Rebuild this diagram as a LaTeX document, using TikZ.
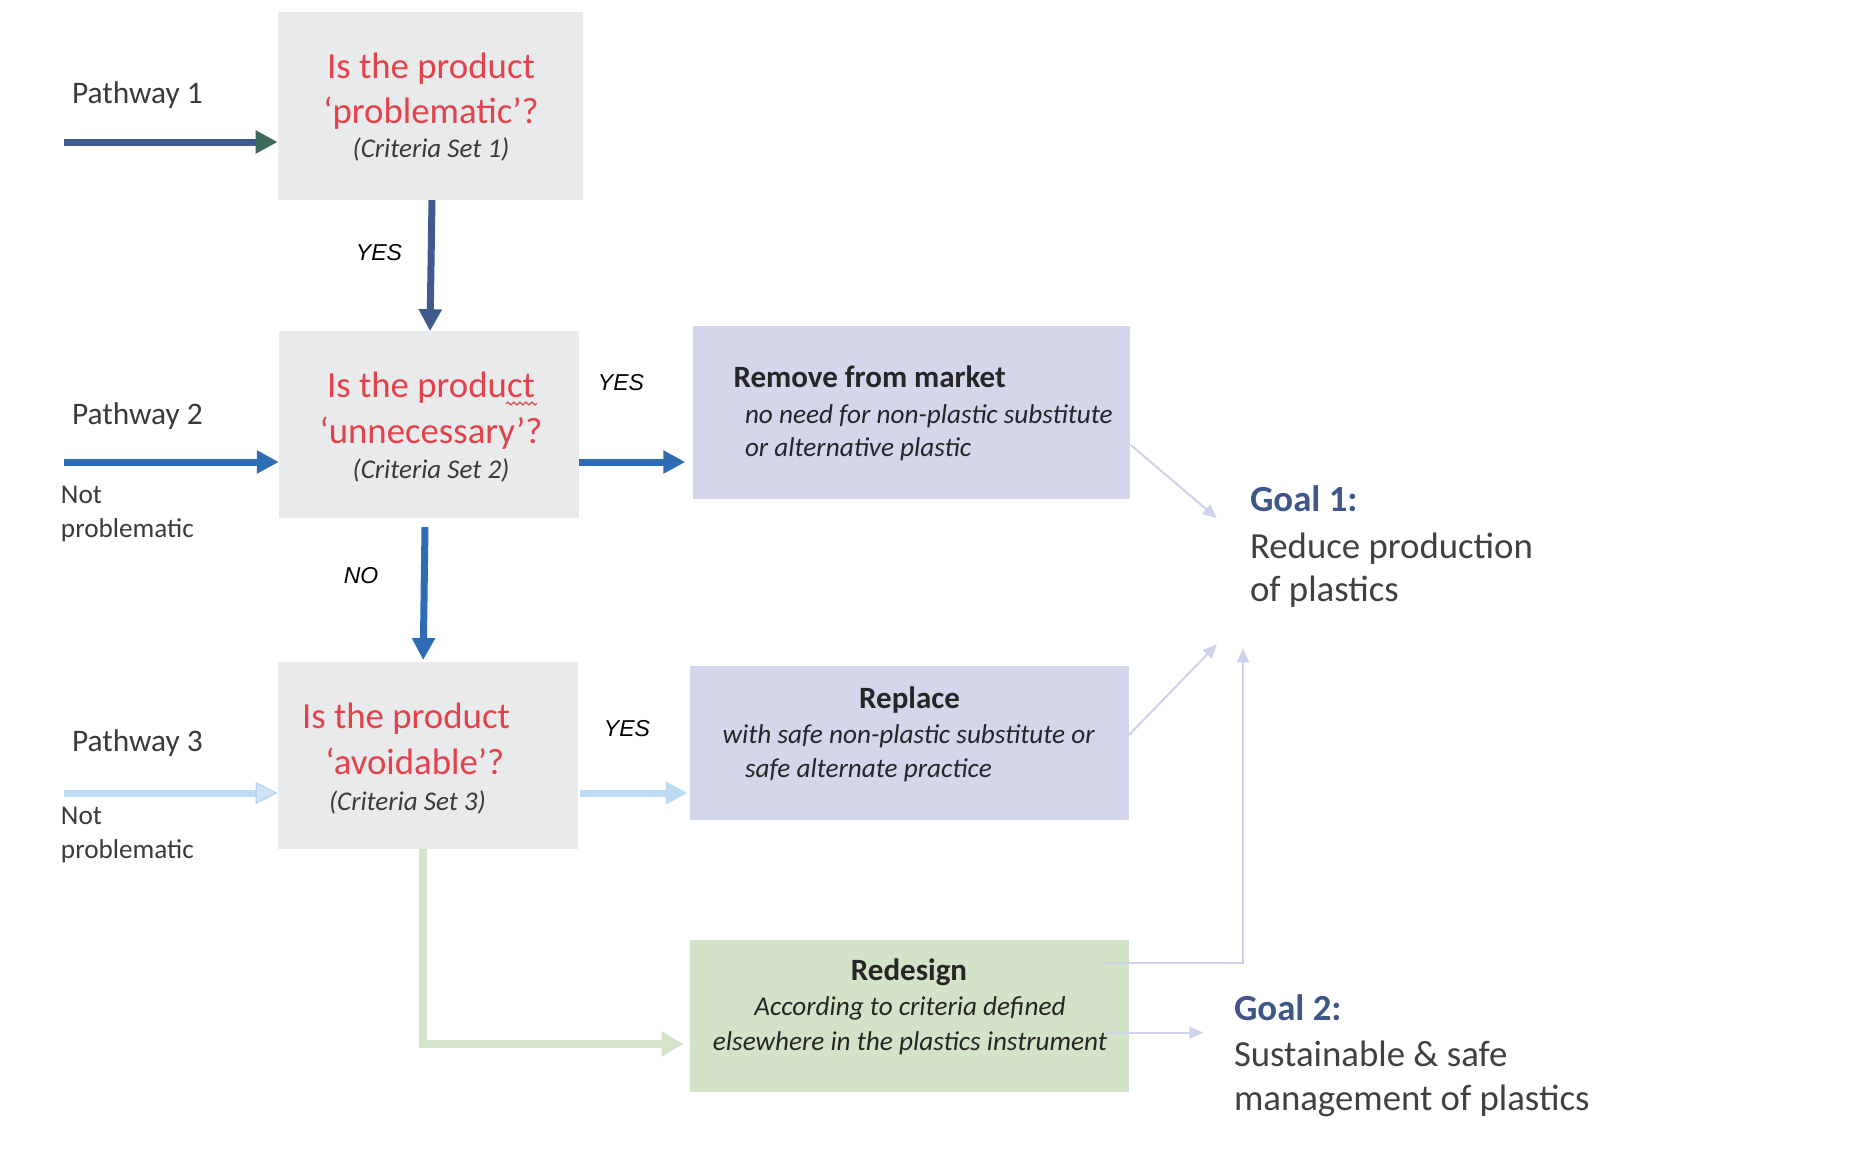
\documentclass[tikz,border=0pt]{standalone}
\usepackage{fontspec}
\setmainfont{Carlito}
\newfontfamily\yesfont{Liberation Sans}
\usetikzlibrary{arrows.meta,decorations.pathmorphing}
\definecolor{boxgray}{HTML}{E9EAEC}
\definecolor{qred}{HTML}{E3424A}
\definecolor{tgray}{HTML}{3A3A3A}
\definecolor{tdark}{HTML}{262626}
\definecolor{darkblue}{HTML}{3F5A8C}
\definecolor{p1head}{HTML}{3C6A5C}
\definecolor{midblue}{HTML}{2E6DB4}
\definecolor{lightblue}{HTML}{BDDCF4}
\definecolor{lightbluehead}{HTML}{CFE5F7}
\definecolor{lightblueedge}{HTML}{B3D5F1}
\definecolor{lavbox}{HTML}{D4D6EC}
\definecolor{greenbox}{HTML}{D3E3C7}
\definecolor{greenline}{HTML}{D4E4C8}
\definecolor{lavline}{HTML}{CFD2EC}
\definecolor{goalblue}{HTML}{3E5688}
\definecolor{goalgray}{HTML}{404040}
\tikzset{
 box/.style={inner sep=0, outer sep=0, anchor=north west, draw=none},
 txt/.style={inner sep=0, outer sep=0, anchor=base},
 txtl/.style={inner sep=0, outer sep=0, anchor=base west},
 redq/.style={txt, text=qred, font=\fontsize{18.4}{22}\selectfont},
 crit/.style={txt, text=tgray, font=\fontsize{13.5}{16}\selectfont\itshape},
 pathlab/.style={txtl, text=tgray, font=\fontsize{15.7}{19}\selectfont},
 notp/.style={txtl, text=tgray, font=\fontsize{13.6}{16}\selectfont},
 yeslab/.style={txt, text=black, font=\yesfont\itshape\fontsize{11.5}{14}\selectfont},
 btitle/.style={text=tdark, font=\fontsize{15.5}{19}\selectfont\bfseries},
 bbody/.style={text=tdark, font=\fontsize{13.6}{16}\selectfont\itshape},
 goalh/.style={txtl, text=goalblue, font=\fontsize{18.4}{22}\selectfont\bfseries},
 goalb/.style={txtl, text=goalgray, font=\fontsize{18.4}{22}\selectfont},
 thick arrow/.style={line width=3.5pt, -{Triangle[length=11pt,width=11pt]}},
 thin arrow/.style={draw=lavline, line width=1pt, -{Triangle[length=7pt,width=6pt]}},
}
\begin{document}
\begin{tikzpicture}[x=0.5pt,y=-0.5pt]
\useasboundingbox (0,0) rectangle (1868,1152);

% boxes
\node[box, fill=boxgray, minimum width=152.5pt, minimum height=94.1pt] (b1) at (277.6,11.9) {};
\node[box, fill=boxgray, minimum width=150.1pt, minimum height=93.5pt] (b2) at (278.8,331.2) {};
\node[box, fill=boxgray, minimum width=150.1pt, minimum height=93.5pt] (b3) at (277.6,662.4) {};
\node[box, fill=lavbox, minimum width=218.65pt, minimum height=86.25pt] (rem) at (693,326.2) {};
\node[box, fill=lavbox, minimum width=219.5pt, minimum height=76.75pt] (rep) at (690,666) {};
\node[box, fill=greenbox, minimum width=219.35pt, minimum height=76pt] (red) at (690,940) {};

% box 1 text
\node[redq] (b1a) at (431,78) {Is the product};
\node[redq] (b1b) at (431,123) {‘problematic’?};
\node[crit] (b1c) at (431,157) {(Criteria Set 1)};
% box 2 text
\node[redq] (b2a) at (431,397) {Is the product};
\node[redq] (b2b) at (431,443) {‘unnecessary’?};
\node[crit] (b2c) at (431,478.6) {(Criteria Set 2)};
\draw[qred, line width=0.6pt, decorate, decoration={snake, amplitude=0.7pt, segment length=3pt}] (506,403.5) -- (537,403.5);
% box 3 text
\node[redq] (b3a) at (406,728.3) {Is the product};
\node[redq] (b3b) at (414.8,774) {‘avoidable’?};
\node[crit] (b3c) at (407.4,810.7) {(Criteria Set 3)};

% pathway labels
\node[pathlab] (pw1) at (72,103) {Pathway 1};
\node[pathlab] (pw2) at (72,424) {Pathway 2};
\node[pathlab] (pw3) at (72,751) {Pathway 3};
\node[notp] (np2a) at (61,503.6) {Not};
\node[notp] (np2b) at (61,537) {problematic};
\node[notp] (np3a) at (61,824) {Not};
\node[notp] (np3b) at (61,858) {problematic};

% yes / no labels
\node[yeslab] (y1) at (379,260) {YES};
\node[yeslab] (y2) at (621,390) {YES};
\node[yeslab] (n1) at (361,583) {NO};
\node[yeslab] (y3) at (627,736) {YES};

% remove text
\node[txtl, btitle] (rema) at (733.5,387.3) {Remove from market};
\node[txtl, bbody] (remb) at (745,423.3) {no need for non-plastic substitute};
\node[txtl, bbody] (remc) at (745,456.7) {or alternative plastic};
% replace text
\node[txt, btitle] (repa) at (909.5,708) {Replace};
\node[txtl, bbody] (repb) at (722.6,743) {with safe non-plastic substitute or};
\node[txtl, bbody] (repc) at (745,777.3) {safe alternate practice};
% redesign text
\node[txt, btitle] (reda) at (909,980) {Redesign};
\node[txt, bbody] (redb) at (910,1015.7) {According to criteria defined};
\node[txt, bbody] (redc) at (910,1050) {elsewhere in the plastics instrument};

% goals
\node[goalh] (g1a) at (1250,511.7) {Goal 1:};
\node[goalb] (g1b) at (1250,558.3) {Reduce production};
\node[goalb] (g1c) at (1250,601.7) {of plastics};
\node[goalh] (g2a) at (1234,1020) {Goal 2:};
\node[goalb] (g2b) at (1234,1066.7) {Sustainable \& safe};
\node[goalb] (g2c) at (1234,1110) {management of plastics};

% coordinates for free ends
\coordinate (p1s) at (64,142);
\coordinate (p2s) at (64,462);
\coordinate (p3s) at (64,793);
\coordinate (gc) at (423,1044);
\coordinate (rems) at (1130.8,445);
\coordinate (g1p) at (1216.9,518.3);
\coordinate (reps) at (1128.9,735);
\coordinate (g1q) at (1216.9,644.3);
\coordinate (rd1) at (1101.4,963);
\coordinate (rd2) at (1243,963);
\coordinate (g1r) at (1243,648.3);
\coordinate (rg2s) at (1104.7,1032.7);
\coordinate (g2p) at (1203.4,1032.7);

% thick arrows
\draw[thick arrow, draw=darkblue, -{Triangle[length=11pt,width=11pt,color=p1head]}] (p1s) -- (p1s -| b1.west);
\draw[thick arrow, draw=midblue, -{Triangle[length=11pt,width=11pt,color=midblue]}] (p2s) -- (p2s -| b2.west);
\draw[thick arrow, draw=lightblue, -{Triangle[length=11pt,width=11pt,color=lightblueedge,fill=lightbluehead,line width=0.6pt]}] (p3s) -- (p3s -| b3.west);
\draw[thick arrow, draw=darkblue, -{Triangle[length=11pt,width=11pt,color=darkblue]}] ([xshift=0.95pt]b1.south) -- ([xshift=0.55pt]b2.north);
\draw[thick arrow, draw=midblue, -{Triangle[length=11pt,width=11pt,color=midblue]}] ([xshift=-1.95pt,yshift=-4.5pt]b2.south) -- ([xshift=-2.25pt,yshift=1.2pt]b3.north);
\draw[thick arrow, draw=midblue, -{Triangle[length=11pt,width=11pt,color=midblue]}, shorten >=3.85pt] (b2.east |- p2s) -- (rem.west |- p2s);
\draw[thick arrow, draw=lightblue, -{Triangle[length=11pt,width=11pt,color=lightblue]}, shorten <=1.3pt, shorten >=1.25pt] (b3.east |- p3s) -- (rep.west |- p3s);
\draw[line width=3.8pt, draw=greenline, -{Triangle[length=11pt,width=12pt,color=greenline]}, shorten >=3.25pt] (b3.south -| gc) -- (gc) -- (gc -| red.west);

% thin lavender arrows
\draw[thin arrow] (rems) -- (g1p);
\draw[thin arrow] (reps) -- (g1q);
\draw[thin arrow] (rd1) -- (rd2) -- (g1r);
\draw[thin arrow] (rg2s) -- (g2p);
\end{tikzpicture}
\end{document}
